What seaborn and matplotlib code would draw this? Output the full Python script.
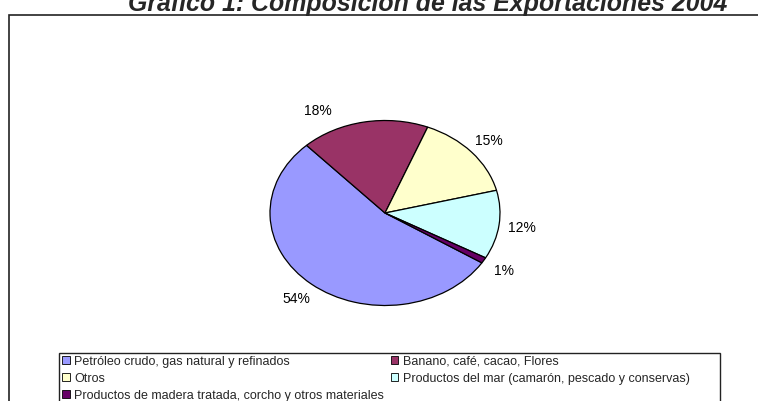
import matplotlib
matplotlib.use("Agg")
import numpy as np
import matplotlib.pyplot as plt
from matplotlib.patches import Rectangle, Patch
import seaborn as sns

# datos del grafico
categorias = [
    "Petróleo crudo, gas natural y refinados",
    "Banano, café, cacao, Flores",
    "Otros",
    "Productos del mar (camarón, pescado y conservas)",
    "Productos de madera tratada, corcho y otros materiales",
]
valores = [54, 18, 15, 12, 1]
colores = ["#9999FF", "#993366", "#FFFFCC", "#CCFFFF", "#660066"]
titulo = "Gráfico 1: Composición de las Exportaciones 2004"

sns.set_theme(style="white")
plt.rcParams["font.family"] = ["Liberation Sans", "DejaVu Sans"]

W, H = 758, 402
fig = plt.figure(figsize=(W / 100, H / 100), dpi=100)
fig.patch.set_facecolor("white")


def caja(x0, y0, x1, y1):
    # pixeles (arriba-izquierda) -> fraccion de figura
    return [x0 / W, 1 - y1 / H, (x1 - x0) / W, (y1 - y0) / H]


# titulo (cortado arriba como en el original)
fig.text(428 / W, 1 - 11 / H, titulo, ha="center", va="baseline",
         fontsize=17.9, fontweight="bold", fontstyle="italic")

# marco del grafico
fig.add_artist(Rectangle((9 / W, -0.05), 1.1, 1 - 16 / H + 0.05, transform=fig.transFigure,
                         fill=False, edgecolor="#222222", linewidth=1.2, clip_on=False))

# pastel eliptico
s = 1.6
cx, cy, rx, ry = 385, 214, 115, 92.5
ax = fig.add_axes(caja(cx - rx * s, cy - ry * s, cx + rx * s, cy + ry * s))
wedges, textos, pcts = ax.pie(
    valores, colors=colores, startangle=-32.6, counterclock=False,
    autopct="%1.0f%%", pctdistance=1.2,
    wedgeprops=dict(edgecolor="black", linewidth=0.9),
    textprops=dict(fontsize=10, color="black"),
)
# la etiqueta del 18% queda algo desplazada hacia la izquierda en el original
w = wedges[1]
ang = np.deg2rad((w.theta1 + w.theta2) / 2 + 17)
pcts[1].set_position((1.26 * np.cos(ang), 1.26 * np.sin(ang)))

ax.set_aspect("auto")
ax.set_xlim(-s, s)
ax.set_ylim(-s, s)
ax.axis("off")

# leyenda
orden = [0, 2, 4, 1, 3]
handles = [Patch(facecolor=colores[i], edgecolor="black", linewidth=0.6, label=categorias[i])
           for i in orden]
fig.legend(handles=handles, loc="upper left", bbox_to_anchor=(62 / W, 1 - 356 / H),
           ncol=2, frameon=False, handlelength=0.6, handleheight=0.6,
           handletextpad=0.4, columnspacing=0.5, labelspacing=0.4,
           borderaxespad=0, borderpad=0, fontsize=9.0)
fig.add_artist(Rectangle((59 / W, -0.05), (720 - 59) / W, 1 - 354 / H + 0.05,
                         transform=fig.transFigure, fill=False, edgecolor="#222222",
                         linewidth=1.0, clip_on=False))

fig.savefig("out.png", dpi=100)
